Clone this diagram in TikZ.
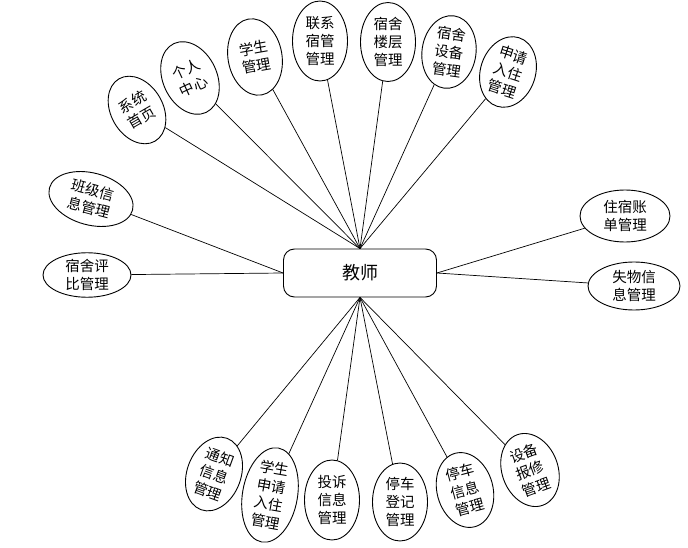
\documentclass[tikz,border=0pt]{standalone}
\usepackage{fontspec}
\usetikzlibrary{shapes.geometric, positioning}
\newfontfamily\cjk{Noto Sans CJK SC}
\tikzset{
  roleBox/.style={rectangle, rounded corners=11pt, draw, line width=0.9pt,
                  minimum width=153pt, minimum height=48pt,
                  font=\cjk\fontsize{18}{20}\selectfont},
  itemEll/.style={ellipse, draw, line width=0.9pt, inner sep=0pt, align=center,
                  font=\cjk\fontsize{14.5}{18}\selectfont},
  link/.style={draw, line width=0.7pt},
}

\begin{document}
\begin{tikzpicture}[x=1pt, y=-1pt]
    \path[use as bounding box, fill=white] (0,0) rectangle (688,548);
    \node[roleBox] (js) at (360,273) {教师};
    \foreach \n/\x/\y/\r/\w/\h/\t in {
        t1/137/110/30/52/72/{系统\\首页},
        t2/190/78/25/54/76/{个人\\中心},
        t3/255/57/10/54/77/{学生\\管理},
        t4/320/41/0/55/80/{联系\\宿管\\管理},
        t5/388/42/0/55/79/{宿舍\\楼层\\管理},
        t6/449/52/-8/54/73/{宿舍\\设备\\管理},
        t7/508/72/-18/55/72/{申请\\入住\\管理}} {
      \node[itemEll, rotate=\r, minimum width=\w pt, minimum height=\h pt] (\n) at (\x,\y) {\t};
      \draw[link] (\n) -- (js.north);
    }
    \foreach \n/\x/\y/\r/\w/\h/\t in {
        b1/214/474/-20/54/76/{通知\\信息\\管理},
        b2/270/495/-10/55/76/{学生\\申请\\入住\\管理},
        b3/332/500/0/55/80/{投诉\\信息\\管理},
        b4/400/502/0/55/78/{停车\\登记\\管理},
        b5/465/490/15/56/76/{停车\\信息\\管理},
        b6/530/470/20/56/75/{设备\\报修\\管理}} {
      \node[itemEll, rotate=\r, minimum width=\w pt, minimum height=\h pt] (\n) at (\x,\y) {\t};
      \draw[link] (\n) -- (js.south);
    }
    \node[itemEll, rotate=-15, minimum width=86pt, minimum height=52pt] (l1) at (91,199) {班级信\\息管理};
    \node[itemEll, minimum width=88pt, minimum height=44pt] (l2) at (87,275) {宿舍评\\比管理};
    \node[itemEll, minimum width=90pt, minimum height=52pt] (r1) at (625,216) {住宿账\\单管理};
    \node[itemEll, minimum width=92pt, minimum height=48pt] (r2) at (634,286) {失物信\\息管理};
    \draw[link] (l1) -- (js.west);
    \draw[link] (l2) -- (js.west);
    \draw[link] (r1) -- (js.east);
    \draw[link] (r2) -- (js.east);
\end{tikzpicture}
\end{document}
